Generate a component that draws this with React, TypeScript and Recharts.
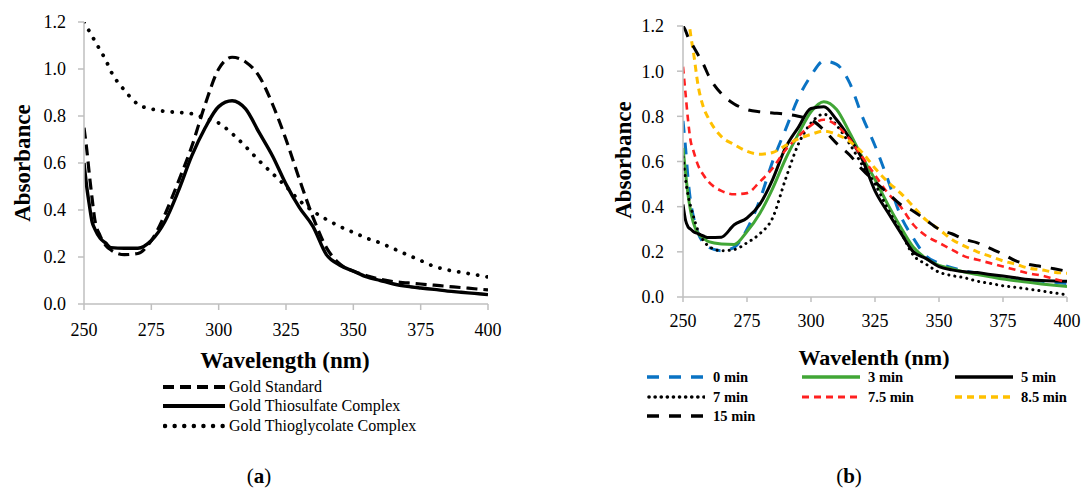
import React from 'react';
import { LineChart, Line, XAxis, YAxis } from 'recharts';

const wavelengths = [250, 251, 252, 253, 254, 256, 258, 260, 265, 270, 275, 280, 285, 290, 295, 300, 305, 310, 315, 320, 325, 330, 335, 340, 345, 350, 355, 360, 365, 370, 375, 380, 385, 390, 395, 400];
const xTicks = [250, 275, 300, 325, 350, 375, 400];
const yTicks = [0, 0.2, 0.4, 0.6, 0.8, 1.0, 1.2];

// Panel (a)
const goldStandard = [0.75, 0.66, 0.55, 0.45, 0.36, 0.29, 0.25, 0.23, 0.21, 0.215, 0.27, 0.38, 0.52, 0.67, 0.85, 1.0, 1.05, 1.03, 0.97, 0.85, 0.7, 0.53, 0.37, 0.24, 0.17, 0.14, 0.12, 0.105, 0.095, 0.09, 0.085, 0.08, 0.075, 0.07, 0.065, 0.06];
const goldThiosulfate = [0.6, 0.5, 0.42, 0.35, 0.32, 0.28, 0.26, 0.24, 0.237, 0.237, 0.27, 0.35, 0.48, 0.63, 0.75, 0.84, 0.865, 0.83, 0.73, 0.63, 0.51, 0.41, 0.33, 0.21, 0.165, 0.14, 0.115, 0.1, 0.085, 0.075, 0.068, 0.062, 0.055, 0.05, 0.045, 0.04];
const goldThioglycolate = [1.2, 1.18, 1.16, 1.14, 1.12, 1.08, 1.04, 0.99, 0.91, 0.85, 0.83, 0.82, 0.815, 0.81, 0.79, 0.77, 0.725, 0.67, 0.61, 0.555, 0.5, 0.44, 0.395, 0.36, 0.33, 0.305, 0.28, 0.26, 0.235, 0.21, 0.185, 0.16, 0.145, 0.135, 0.125, 0.115];

// Panel (b)
const min0 = [0.78, 0.66, 0.52, 0.42, 0.36, 0.28, 0.24, 0.22, 0.205, 0.22, 0.3, 0.43, 0.6, 0.74, 0.88, 0.98, 1.045, 1.03, 0.95, 0.8, 0.67, 0.52, 0.36, 0.26, 0.18, 0.15, 0.13, 0.115, 0.105, 0.095, 0.085, 0.08, 0.075, 0.07, 0.065, 0.06];
const min3 = [0.66, 0.55, 0.45, 0.38, 0.33, 0.28, 0.26, 0.245, 0.235, 0.233, 0.29, 0.37, 0.48, 0.61, 0.72, 0.82, 0.865, 0.83, 0.73, 0.62, 0.52, 0.41, 0.31, 0.22, 0.17, 0.14, 0.125, 0.11, 0.1, 0.09, 0.08, 0.072, 0.065, 0.058, 0.052, 0.047];
const min5 = [0.41, 0.34, 0.31, 0.3, 0.29, 0.28, 0.27, 0.263, 0.265, 0.32, 0.35, 0.41, 0.52, 0.66, 0.75, 0.835, 0.842, 0.785, 0.705, 0.61, 0.47, 0.375, 0.285, 0.2, 0.17, 0.135, 0.12, 0.112, 0.108, 0.1, 0.093, 0.085, 0.077, 0.073, 0.071, 0.07];
const min7 = [0.62, 0.52, 0.45, 0.4, 0.36, 0.29, 0.25, 0.225, 0.205, 0.21, 0.24, 0.28, 0.35, 0.52, 0.675, 0.77, 0.81, 0.76, 0.68, 0.585, 0.5, 0.39, 0.29, 0.185, 0.145, 0.11, 0.095, 0.085, 0.07, 0.06, 0.05, 0.043, 0.035, 0.027, 0.018, 0.01];
const min7_5 = [1.02, 0.9, 0.78, 0.69, 0.65, 0.58, 0.54, 0.51, 0.47, 0.455, 0.46, 0.51, 0.57, 0.65, 0.71, 0.76, 0.785, 0.76, 0.7, 0.62, 0.54, 0.46, 0.4, 0.32, 0.27, 0.24, 0.21, 0.18, 0.165, 0.15, 0.135, 0.12, 0.105, 0.095, 0.08, 0.065];
const min8_5 = [1.45, 1.35, 1.25, 1.16, 1.09, 0.93, 0.84, 0.79, 0.71, 0.675, 0.645, 0.632, 0.64, 0.67, 0.7, 0.72, 0.735, 0.72, 0.69, 0.64, 0.57, 0.51, 0.46, 0.4, 0.34, 0.3, 0.255, 0.225, 0.2, 0.18, 0.16, 0.145, 0.128, 0.12, 0.11, 0.105];
const min15 = [1.2, 1.18, 1.15, 1.13, 1.11, 1.07, 1.03, 0.98, 0.9, 0.855, 0.83, 0.82, 0.815, 0.81, 0.8, 0.785, 0.74, 0.68, 0.63, 0.565, 0.51, 0.46, 0.41, 0.38, 0.34, 0.3, 0.28, 0.255, 0.24, 0.215, 0.19, 0.16, 0.144, 0.135, 0.125, 0.114];

const leftNames = ['Gold Standard', 'Gold Thiosulfate Complex', 'Gold Thioglycolate Complex'];
const rightNames = ['0 min', '3 min', '5 min', '7 min', '7.5 min', '8.5 min', '15 min'];

const leftData = wavelengths.map((wl, i) => ({
  wl,
  std: goldStandard[i],
  thios: goldThiosulfate[i],
  thiog: goldThioglycolate[i],
}));

const rightData = wavelengths.map((wl, i) => ({
  wl,
  m0: min0[i],
  m3: min3[i],
  m5: min5[i],
  m7: min7[i],
  m75: min7_5[i],
  m85: min8_5[i],
  m15: min15[i],
}));

type Style = { key: string; color: string; width: number; dash?: string; cap?: 'round' | 'butt' };

const leftStyles: Style[] = [
  { key: 'std', color: '#000', width: 3.2, dash: '11 6' },
  { key: 'thios', color: '#000', width: 3.4 },
  { key: 'thiog', color: '#000', width: 3.8, dash: '0.1 9.5', cap: 'round' },
];

const rightStyles: Style[] = [
  { key: 'm0', color: '#0A73C4', width: 3, dash: '12 10' },
  { key: 'm3', color: '#41A636', width: 3 },
  { key: 'm5', color: '#000', width: 3 },
  { key: 'm7', color: '#000', width: 3, dash: '0.1 6', cap: 'round' },
  { key: 'm75', color: '#FF2020', width: 2.6, dash: '7 5' },
  { key: 'm85', color: '#FFC000', width: 3, dash: '7 5' },
  { key: 'm15', color: '#000', width: 3, dash: '12 10' },
];

const FONT = "'Liberation Serif', 'Times New Roman', serif";
const AXIS_GRAY = '#BFBFBF';

const tickStyle = { fill: '#000', fontSize: 18, fontFamily: FONT };

const css = `
.recharts-cartesian-axis-tick text, .recharts-cartesian-axis-tick tspan, .recharts-text {
  font-family: 'Liberation Serif', 'Times New Roman', serif !important;
  font-size: 18px !important;
  fill: #000 !important;
}
`;

function Sample({ s, w }: { s: Style; w: number }) {
  return (
    <svg width={w} height={8} style={{ display: 'block' }}>
      <line
        x1={s.cap === 'round' ? 2 : 0}
        y1={4}
        x2={w}
        y2={4}
        stroke={s.color}
        strokeWidth={s.width + 0.6}
        strokeDasharray={s.dash}
        strokeLinecap={s.cap || 'butt'}
      />
    </svg>
  );
}

export default function App() {
  const leftRows = [387, 406, 426];
  const rightCols = [647, 802, 955];
  const rightRows = [377, 397, 416];
  return (
    <div
      style={{
        position: 'absolute',
        left: 0,
        top: 0,
        width: 1083,
        height: 490,
        background: '#fff',
        overflow: 'hidden',
        fontFamily: FONT,
      }}
    >
      <style>{css}</style>
      {/* Panel (a) */}
      <div style={{ position: 'absolute', left: 0, top: 0 }}>
        <LineChart width={520} height={340} data={leftData} margin={{ top: 22, right: 32, bottom: 0, left: 24 }}>
          <XAxis
            type="number"
            dataKey="wl"
            domain={[250, 400]}
            ticks={xTicks}
            interval={0}
            allowDataOverflow
            height={36}
            tickSize={6}
            tickMargin={13}
            tick={tickStyle}
            stroke={AXIS_GRAY}
            axisLine={{ stroke: AXIS_GRAY, strokeWidth: 1.5 }}
            tickLine={{ stroke: AXIS_GRAY, strokeWidth: 1.5 }}
          />
          <YAxis
            type="number"
            domain={[0, 1.2]}
            ticks={yTicks}
            interval={0}
            allowDataOverflow
            width={60}
            tickSize={6}
            tickMargin={12}
            tick={tickStyle}
            tickFormatter={(v: number) => v.toFixed(1)}
            stroke={AXIS_GRAY}
            axisLine={{ stroke: AXIS_GRAY, strokeWidth: 1.5 }}
            tickLine={{ stroke: AXIS_GRAY, strokeWidth: 1.5 }}
          />
          {leftStyles.map((s, i) => (
            <Line
              key={s.key}
              name={leftNames[i]}
              dataKey={s.key}
              type="monotone"
              stroke={s.color}
              strokeWidth={s.width}
              strokeDasharray={s.dash}
              strokeLinecap={s.cap || 'butt'}
              dot={false}
              activeDot={false}
              isAnimationActive={false}
            />
          ))}
        </LineChart>
      </div>
      <div
        style={{
          position: 'absolute',
          left: 22,
          top: 163,
          transform: 'translate(-50%, -50%) rotate(-90deg)',
          fontSize: 23,
          fontWeight: 'bold',
          whiteSpace: 'nowrap',
          lineHeight: 1,
        }}
      >
        Absorbance
      </div>
      <div
        style={{
          position: 'absolute',
          left: 285,
          top: 360,
          transform: 'translate(-50%, -50%)',
          fontSize: 23,
          fontWeight: 'bold',
          whiteSpace: 'nowrap',
          lineHeight: 1,
        }}
      >
        Wavelength (nm)
      </div>
      {leftStyles.map((s, i) => (
        <div
          key={s.key}
          style={{
            position: 'absolute',
            left: 163,
            top: leftRows[i] - 10,
            height: 20,
            display: 'flex',
            alignItems: 'center',
            whiteSpace: 'nowrap',
          }}
        >
          <Sample s={s} w={62} />
          <span style={{ marginLeft: 4, fontSize: 16, lineHeight: 1 }}>{leftNames[i]}</span>
        </div>
      ))}
      <div
        style={{
          position: 'absolute',
          left: 259,
          top: 477,
          transform: 'translate(-50%, -50%)',
          fontSize: 21,
          lineHeight: 1.1,
          whiteSpace: 'nowrap',
        }}
      >
        (<b>a</b>)
      </div>

      {/* Panel (b) */}
      <div style={{ position: 'absolute', left: 600, top: 0 }}>
        <LineChart width={483} height={340} data={rightData} margin={{ top: 26, right: 16, bottom: 7, left: 23 }}>
          <XAxis
            type="number"
            dataKey="wl"
            domain={[250, 400]}
            ticks={xTicks}
            interval={0}
            allowDataOverflow
            height={36}
            tickSize={5}
            tickMargin={12}
            tick={tickStyle}
            stroke={AXIS_GRAY}
            axisLine={{ stroke: AXIS_GRAY, strokeWidth: 1.5 }}
            tickLine={{ stroke: AXIS_GRAY, strokeWidth: 1.5 }}
          />
          <YAxis
            type="number"
            domain={[0, 1.2]}
            ticks={yTicks}
            interval={0}
            allowDataOverflow
            width={60}
            tickSize={6}
            tickMargin={13}
            tick={tickStyle}
            tickFormatter={(v: number) => v.toFixed(1)}
            stroke={AXIS_GRAY}
            axisLine={{ stroke: AXIS_GRAY, strokeWidth: 1.5 }}
            tickLine={{ stroke: AXIS_GRAY, strokeWidth: 1.5 }}
          />
          {rightStyles.map((s, i) => (
            <Line
              key={s.key}
              name={rightNames[i]}
              dataKey={s.key}
              type="monotone"
              stroke={s.color}
              strokeWidth={s.width}
              strokeDasharray={s.dash}
              strokeLinecap={s.cap || 'butt'}
              dot={false}
              activeDot={false}
              isAnimationActive={false}
            />
          ))}
        </LineChart>
      </div>
      <div
        style={{
          position: 'absolute',
          left: 623,
          top: 160,
          transform: 'translate(-50%, -50%) rotate(-90deg)',
          fontSize: 23,
          fontWeight: 'bold',
          whiteSpace: 'nowrap',
          lineHeight: 1,
        }}
      >
        Absorbance
      </div>
      <div
        style={{
          position: 'absolute',
          left: 874,
          top: 358,
          transform: 'translate(-50%, -50%)',
          fontSize: 22,
          fontWeight: 'bold',
          whiteSpace: 'nowrap',
          lineHeight: 1,
        }}
      >
        Wavelenth (nm)
      </div>
      {rightStyles.map((s, i) => (
        <div
          key={s.key}
          style={{
            position: 'absolute',
            left: rightCols[i % 3],
            top: rightRows[Math.floor(i / 3)] - 10,
            height: 20,
            display: 'flex',
            alignItems: 'center',
            whiteSpace: 'nowrap',
          }}
        >
          <Sample s={s} w={58} />
          <span style={{ marginLeft: 8, fontSize: 14.5, fontWeight: 'bold', lineHeight: 1 }}>{rightNames[i]}</span>
        </div>
      ))}
      <div
        style={{
          position: 'absolute',
          left: 849,
          top: 477,
          transform: 'translate(-50%, -50%)',
          fontSize: 21,
          lineHeight: 1.1,
          whiteSpace: 'nowrap',
        }}
      >
        (<b>b</b>)
      </div>
    </div>
  );
}
